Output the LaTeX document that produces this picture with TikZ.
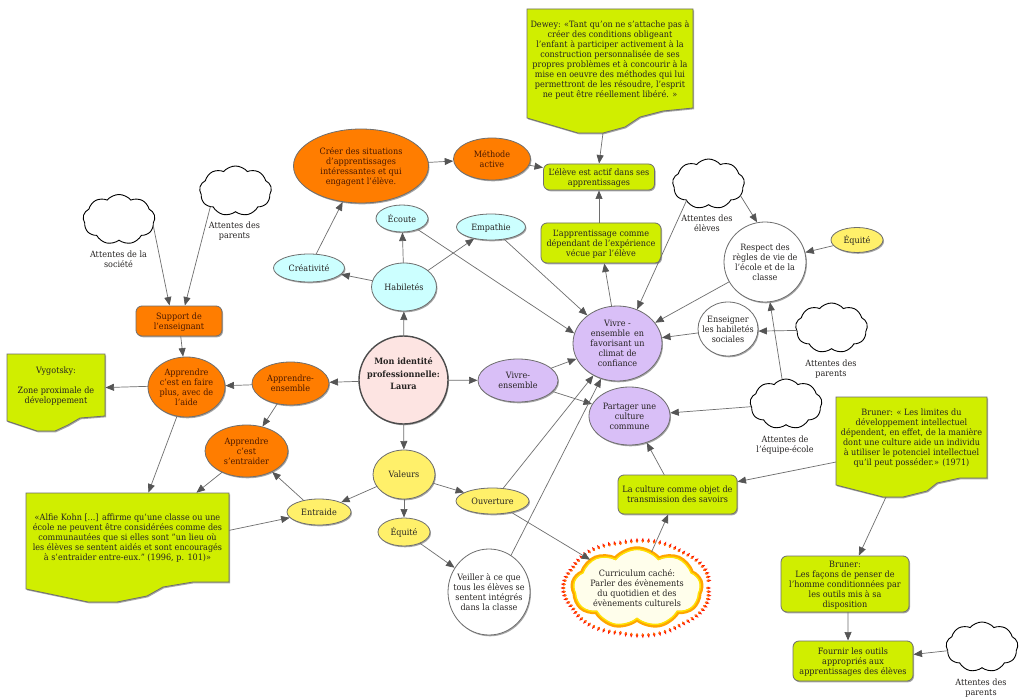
\documentclass[tikz,border=0pt]{standalone}
\usepackage{fontspec}
\setmainfont{DejaVu Serif}[FakeStretch=0.93]
\usetikzlibrary{shapes.geometric,shapes.symbols,arrows.meta,shadows}
\newcommand\fs{\fontsize{8.7}{10}\selectfont}
\newcommand\T[2][0pt]{\makebox[0pt]{\raisebox{\dimexpr-.25em-1.5pt+#1\relax}[0pt][0pt]{\begin{tabular}{@{}c@{}}#2\end{tabular}}}}
\definecolor{cOrange}{HTML}{FF7D00}
\definecolor{cCyan}{HTML}{CCFFFF}
\definecolor{cYellow}{HTML}{FFF06A}
\definecolor{cPurple}{HTML}{D9BFF7}
\definecolor{cLime}{HTML}{D0EE00}
\definecolor{cPink}{HTML}{FDE4E2}
\definecolor{cLine}{HTML}{6E6E6E}
\definecolor{cTip}{HTML}{555555}
\definecolor{cText}{HTML}{262322}
\definecolor{cTextO}{HTML}{4A1800}
\tikzset{
  x=1pt,y=-1pt,
  every node/.style={inner sep=0pt,outer sep=0pt,font=\fs,text=cText},
  sh/.style={drop shadow={shadow xshift=1pt,shadow yshift=-1.3pt,opacity=.35,fill=black}},
  bub/.style={ellipse,draw=cLine,line width=.8pt,sh,minimum width=#1},
  bub/.default=40pt,
  hh/.style={minimum height=#1},
  orangeb/.style={fill=cOrange,text=cTextO},
  cyanb/.style={fill=cCyan},
  yellowb/.style={fill=cYellow},
  purpleb/.style={fill=cPurple},
  whiteb/.style={fill=white},
  box/.style={rectangle,rounded corners=6pt,draw=cLine,line width=.8pt,sh,fill=cLime},
  cl/.style={cloud,cloud puffs=9,cloud puff arc=100,cloud ignores aspect,draw=black,line width=.9pt,fill=white,minimum width=72pt,minimum height=50pt},
  notebg/.style={draw=cLine,line width=.8pt,fill=cLime,sh},
  con/.style={draw=cLine,line width=.7pt,-{Triangle[length=8.5pt,width=7pt,color=cTip]},shorten >=.5pt},
}
\begin{document}
\begin{tikzpicture}
\useasboundingbox (0,0) rectangle (1024,700);
\fill[white] (0,0) rectangle (1024,700);
% note backgrounds
\path[notebg] (527,9) -- (693,9) -- (693,108) -- (663,111) -- (640,117) -- (625,127) -- (603,133) -- (578,133) -- (527,118) -- cycle;
\path[notebg] (7,354) -- (105,354) -- (105,416) -- (80,418) -- (68,425) -- (55,431) -- (37,431) -- (7,421) -- cycle;
\path[notebg] (26,493) -- (229,493) -- (229,582) -- (193,582) -- (163,587) -- (147,596) -- (117,602) -- (88,602) -- (26,589) -- cycle;
\path[notebg] (836,397) -- (987,397) -- (987,478) -- (960,478) -- (937,483) -- (927,491) -- (903,497) -- (883,497) -- (836,485) -- cycle;
\coordinate (deweyTip) at (603,133);
\coordinate (brunerTip) at (886,497);
% note texts
\node[minimum width=166pt,minimum height=100pt] (dewey) at (610,59) {\T{Dewey: «Tant qu'on ne s'attache pas à\\créer des conditions obligeant\\l'enfant à participer activement à la\\construction personnalisée de ses\\propres problèmes et à concourir à la\\mise en oeuvre des méthodes qui lui\\permettront de les résoudre, l'esprit\\ne peut être réellement libéré. »}};
\node[minimum width=98pt,minimum height=62pt] (vyg) at (56,385) {\T{Vygotsky:\\[10pt]Zone proximale de\\développement}};
\node[minimum width=203pt,minimum height=89pt] (alfie) at (127.5,537.5) {\T{«Alfie Kohn [...] affirme qu'une classe ou une\\école ne peuvent être considérées comme des\\communautées que si elles sont "un lieu où\\les élèves se sentent aidés et sont encouragés\\à s'entraider entre-eux." (1996, p. 101)»}};
\node[minimum width=151pt,minimum height=81pt] (bruner) at (911.5,437.5) {\T{Bruner: « Les limites du\\développement intellectuel\\dépendent, en effet, de la manière\\dont une culture aide un individu\\à utiliser le potenciel intellectuel\\qu'il peut posséder.» (1971)}};
% bubbles
\node[bub=89pt,hh=88pt,fill=cPink,line width=1.4pt,draw=black!70,font=\fs\bfseries] (main) at (403.5,380) {\T[6pt]{Mon identité\\[2.5pt]professionnelle:\\[2.5pt]Laura}};
\node[bub=65pt,hh=48pt,cyanb] (hab) at (404,287) {\T{Habiletés}};
\node[bub=71pt,hh=28pt,cyanb] (crea) at (309,268) {\T{Créativité}};
\node[bub=52pt,hh=27pt,cyanb] (eco) at (402,218.5) {\T{Écoute}};
\node[bub=69pt,hh=26pt,cyanb] (emp) at (491,227) {\T{Empathie}};
\node[bub=135pt,hh=74pt,orangeb] (creer) at (361,166) {\T{Créer des situations\\d'apprentissages\\intéressantes et qui\\engagent l'élève.}};
\node[bub=77pt,hh=42pt,orangeb] (meth) at (492,159) {\T{Méthode\\active}};
\node[box,minimum width=111pt,minimum height=26pt] (actif) at (599,177) {\T{L'élève est actif dans ses\\apprentissages}};
\node[box,minimum width=120pt,minimum height=40pt] (appr) at (601,243) {\T{L'apprentissage comme\\dépendant de l'expérience\\vécue par l'élève}};
\node[bub=82pt,hh=80pt,whiteb] (resp) at (765,262) {\T{Respect des\\règles de vie de\\l'école et de la\\classe}};
\node[bub=52pt,hh=25pt,yellowb] (equiR) at (857,240) {\T{Équité}};
\node[bub=60pt,hh=54pt,whiteb] (ens) at (728,329) {\T{Enseigner\\les habiletés\\sociales}};
\node[bub=89pt,hh=75pt,purpleb] (viv) at (617.5,343.5) {\T{Vivre -\\ensemble\, en\\favorisant un\\climat de\\confiance}};
\node[bub=80pt,hh=43pt,purpleb] (ve) at (518,380.5) {\T{Vivre-\\ensemble}};
\node[bub=81pt,hh=58pt,purpleb] (part) at (629.5,416) {\T{Partager une\\culture\\commune}};
\node[box,minimum width=119pt,minimum height=39pt] (cult) at (677.5,494.5) {\T{La culture comme objet de\\transmission des savoirs}};
\node[bub=62pt,hh=49pt,yellowb] (val) at (404,474.5) {\T{Valeurs}};
\node[bub=73pt,hh=26pt,yellowb] (ouv) at (492.5,501) {\T{Ouverture}};
\node[bub=52pt,hh=28pt,yellowb] (equiL) at (404,532) {\T{Équité}};
\node[bub=64pt,hh=26pt,yellowb] (entr) at (319,512) {\T{Entraide}};
\node[bub=82pt,hh=86pt,whiteb] (veil) at (489,592) {\T{Veiller à ce que\\tous les élèves se\\sentent intégrés\\dans la classe}};
\node[bub=77pt,hh=43pt,orangeb] (ae) at (290.5,383.5) {\T{Apprendre-\\ensemble}};
\node[bub=77pt,hh=60pt,orangeb] (faire) at (186.5,387) {\T{Apprendre\\c'est en faire\\plus, avec de\\l'aide}};
\node[bub=83pt,hh=52pt,orangeb] (sent) at (246.5,451) {\T{Apprendre\\c'est\\s'entraider}};
\node[box,fill=cOrange,text=cTextO,minimum width=86pt,minimum height=30pt] (supp) at (179,321) {\T{Support de\\l'enseignant}};
\node[box,minimum width=128pt,minimum height=56pt] (br2) at (845,584) {\T{Bruner:\\Les façons de penser de\\l'homme conditionnées par\\les outils mis à sa\\disposition}};
\node[box,minimum width=120pt,minimum height=40pt] (four) at (853,661) {\T{Fournir les outils\\appropriés aux\\apprentissages des élèves}};
% clouds
\node[cl] (cSoc) at (119,219.5) {};
\node (lSoc) at (118.5,259.5) {\T{Attentes de la\\société}};
\node[cl] (cPar) at (235.5,191) {};
\node (lPar) at (234.5,230) {\T{Attentes des\\parents}};
\node[cl] (cEle) at (708.5,184) {};
\node (lEle) at (707,223.5) {\T{Attentes des\\élèves}};
\node[cl] (cParR) at (831.5,328) {};
\node (lParR) at (831,368) {\T{Attentes des\\parents}};
\node[cl] (cEq) at (786,404) {};
\node (lEq) at (785,444) {\T{Attentes de\\l'équipe-école}};
\node[cl] (cParB) at (982,647) {};
\node (lParB) at (981,687) {\T{Attentes des\\parents}};
% flames
\foreach \a in {0,4.5,...,355} {
  \pgfmathsetmacro\rr{1+0.035*abs(sin(3.5*\a))}
  \pgfmathsetmacro\px{637+71*\rr*cos(\a)}
  \pgfmathsetmacro\py{588+46*\rr*sin(\a)}
  \pgfmathsetmacro\rot{-\a-90}
  \begin{scope}[shift={(\px,\py)},rotate=\rot]
    \fill[red!80!orange] (0,-3) .. controls (1.5,-1) and (2,1.6) .. (0,2) .. controls (-2,1.6) and (-1.5,-1) .. (0,-3) -- cycle;
    \fill[orange] (0,.6) ellipse (.9 and 1.1);
  \end{scope}
}
\node[cloud,cloud puffs=9,cloud puff arc=100,cloud ignores aspect,draw=orange!70!yellow,line width=3.4pt,fill=yellow!8,minimum width=130pt,minimum height=80pt] (cur) at (637,588) {};
\node[cloud,cloud puffs=9,cloud puff arc=100,cloud ignores aspect,draw=yellow!85!orange,line width=1.4pt,minimum width=127pt,minimum height=77pt] (curB) at (637,588) {\T{Curriculum caché:\\Parler des évènements\\du quotidien et des\\évènements culturels}};
% connectors
\draw[con] (main) -- (hab);
\draw[con] (hab) -- (crea);
\draw[con] (hab) -- (eco);
\draw[con] (hab) -- (emp);
\draw[con] (crea) -- (creer);
\draw[con] (eco.-35) -- (viv.167);
\draw[con] (emp.-43) -- (viv.137);
\draw[con] (creer) -- (meth);
\draw[con] (meth) -- (actif);
\draw[con] (deweyTip) -- (actif.north);
\draw[con] (appr.north -| actif.south) -- (actif.south);
\draw[con] (viv.99) -- (appr.-81);
\draw[con] (cEle.-20) -- (resp.101);
\draw[con] (cEle.217) -- (viv.60);
\draw[con] (equiR) -- (resp);
\draw[con] (resp) -- (viv);
\draw[con] (ens) -- (viv);
\draw[con] (cParR.184) -- (ens.-4);
\draw[con] (cEq.99) -- (resp.-83);
\draw[con] (cEq) -- (part);
\draw[con] (ve) -- (viv);
\draw[con] (ve) -- (part);
\draw[con] (main) -- (ve);
\draw[con] (main) -- (val);
\draw[con] (val) -- (ouv);
\draw[con] (val) -- (equiL);
\draw[con] (val) -- (entr);
\draw[con] (equiL) -- (veil);
\draw[con] (ouv.50) -- (viv.233);
\draw[con] (veil.59) -- (viv.245);
\draw[con] (ouv) -- (cur);
\draw[con] (cur.68) -- (cult.245);
\draw[con] (cult.124) -- (part.-57);
\draw[con] (bruner.198.7) -- (cult.12);
\draw[con] (brunerTip) -- (br2.64);
\draw[con] (br2.-84) -- (four.104);
\draw[con] (cParB) -- (four);
\draw[con] (main) -- (ae);
\draw[con] (ae) -- (faire);
\draw[con] (ae) -- (sent);
\draw[con] (faire.179) -- (vyg.-3.5);
\draw[con] (faire.252) -- (alfie.65.7);
\draw[con] (sent.221) -- (alfie.33);
\draw[con] (alfie.4.7) -- (entr.191);
\draw[con] (entr.143) -- (sent.-39);
\draw[con] (supp) -- (faire);
\draw[con] (cSoc.-10) -- (supp.122);
\draw[con] (cPar.212) -- (supp.69);
\end{tikzpicture}
\end{document}
